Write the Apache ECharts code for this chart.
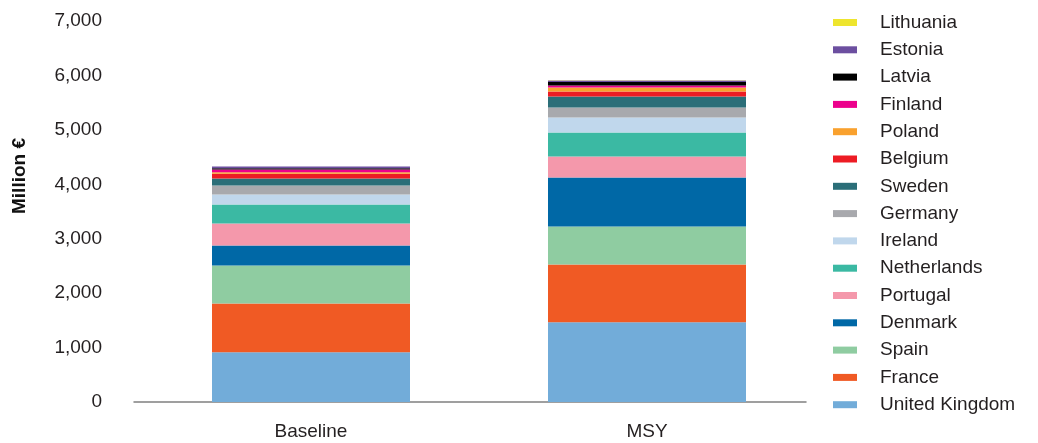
<!DOCTYPE html>
<html>
<head>
<meta charset="utf-8">
<style>
  html, body { margin: 0; padding: 0; background: #ffffff; }
  #chart { width: 1038px; height: 443px; }
</style>
<script src="https://cdn.jsdelivr.net/npm/echarts@6/dist/echarts.min.js"></script>
</head>
<body>
<div id="chart"></div>
<script>
// Scenarios on the x axis
const scenarios = ['Baseline', 'MSY'];

// Countries, stacked bottom to top
const countries = [
  'United Kingdom', 'France', 'Spain', 'Denmark', 'Portugal', 'Netherlands',
  'Ireland', 'Germany', 'Sweden', 'Belgium', 'Poland', 'Finland',
  'Latvia', 'Estonia', 'Lithuania'
];

// Values in million euro: [Baseline, MSY]
const unitedKingdom = [915, 1466];
const france        = [895, 1060];
const spain         = [698, 698];
const denmark       = [367, 900];
const portugal      = [404, 386];
const netherlands   = [349, 441];
const ireland       = [184, 276];
const germany       = [165, 184];
const sweden        = [129, 202];
const belgium       = [86, 92];
const poland        = [30, 73];
const finland       = [49, 37];
const latvia        = [24, 62];
const estonia       = [31, 29];
const lithuania     = [3, 4];

const countryValues = [
  unitedKingdom, france, spain, denmark, portugal, netherlands,
  ireland, germany, sweden, belgium, poland, finland,
  latvia, estonia, lithuania
];

const countryColors = [
  '#72acd9', '#f05a24', '#8fcca1', '#0068a6', '#f498ab', '#3bb9a3',
  '#c0d7ec', '#a8a9ad', '#2b6e78', '#ed1c24', '#f9a12e', '#ec008c',
  '#000000', '#6c4fa0', '#eee52e'
];

// Y axis ticks
const yMin = 0;
const yMax = 7000;
const yStep = 1000;

const fontFamily = '"Liberation Sans", Arial, sans-serif';
const textColor = '#231f20';

const chart = echarts.init(document.getElementById('chart'), null, { renderer: 'canvas' });

const series = countries.map((name, i) => ({
  name: name,
  type: 'bar',
  stack: 'total',
  barWidth: 198,
  xAxisIndex: 0,
  yAxisIndex: 0,
  itemStyle: { color: countryColors[i] },
  emphasis: { disabled: true },
  data: countryValues[i]
}));

chart.setOption({
  animation: false,
  backgroundColor: '#ffffff',
  grid: [
    // bars and their labels
    { left: 143, right: 223, top: 21, bottom: 41 },
    // the horizontal baseline, which runs slightly left of the bar area
    { left: 134, right: 232, top: 21, bottom: 41 }
  ],
  xAxis: [
    {
      type: 'category',
      gridIndex: 0,
      data: scenarios,
      axisLine: { show: false },
      axisTick: { show: false },
      axisLabel: { color: textColor, fontSize: 19, fontFamily: fontFamily, margin: 20 }
    },
    {
      type: 'value',
      gridIndex: 1,
      min: 0,
      max: 1,
      axisLine: { show: true, lineStyle: { color: '#808080', width: 1.5 } },
      axisTick: { show: false },
      axisLabel: { show: false },
      splitLine: { show: false }
    }
  ],
  yAxis: [
    {
      type: 'value',
      gridIndex: 0,
      min: yMin,
      max: yMax,
      interval: yStep,
      axisLine: { show: false },
      axisTick: { show: false },
      splitLine: { show: false },
      axisLabel: {
        color: textColor,
        fontSize: 19,
        fontFamily: fontFamily,
        margin: 41,
        padding: [3, 0, 0, 0],
        formatter: v => v.toLocaleString('en-US')
      }
    },
    {
      type: 'value',
      gridIndex: 1,
      show: false,
      min: 0,
      max: 1
    }
  ],
  graphic: [
    {
      type: 'text',
      x: 20,
      y: 176,
      rotation: Math.PI / 2,
      style: {
        text: 'Million €',
        fill: '#111111',
        font: 'bold 19px ' + fontFamily,
        align: 'center',
        verticalAlign: 'middle'
      }
    }
  ],
  legend: {
    orient: 'vertical',
    left: 828,
    top: 8,
    data: countries.slice().reverse(),
    icon: 'rect',
    itemWidth: 24,
    itemHeight: 7,
    itemGap: 8.3,
    selectedMode: false,
    textStyle: {
      color: textColor,
      fontSize: 19,
      lineHeight: 18,
      fontFamily: fontFamily,
      padding: [0, 0, 0, 18]
    }
  },
  series: series
});
</script>
</body>
</html>
